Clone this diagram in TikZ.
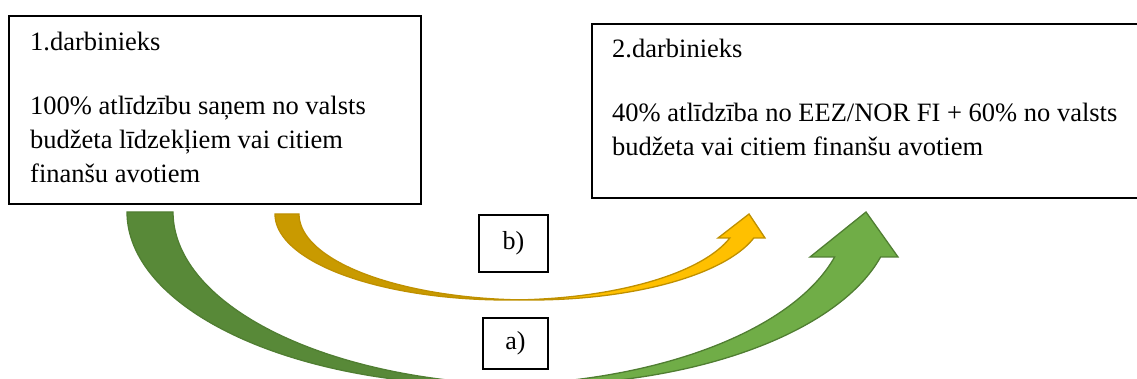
\documentclass[tikz,border=0pt]{standalone}
\usepackage{fontspec}
\setmainfont{Liberation Serif}
\definecolor{gdark}{RGB}{88,137,56}
\definecolor{glight}{RGB}{112,173,71}
\definecolor{gline}{RGB}{80,126,50}
\definecolor{ydark}{RGB}{201,154,0}
\definecolor{ylight}{RGB}{255,192,0}
\definecolor{yline}{RGB}{191,144,0}
\begin{document}
\begin{tikzpicture}[x=1pt,y=-1pt,
  box/.style={draw=black,line width=2pt,fill=white,inner sep=0pt},
  lbl/.style={draw=black,line width=1.6pt,fill=white,inner sep=0pt,font=\fontsize{26}{30}\selectfont},
  txt/.style={inner sep=0pt,anchor=base west,font=\fontsize{26.5}{34}\selectfont}]
\useasboundingbox (0,0) rectangle (1137,379);
\clip (0,0) rectangle (1137,379);

% boxes
\node[box,anchor=north west,minimum width=412pt,minimum height=188pt] (b1) at (8,15) {};
\node[box,anchor=north west,minimum width=560pt,minimum height=174pt] (b2) at (591,23) {};

\node[txt] (b1t1) at (30,51) {1.darbinieks};
\node[txt] (b1t2) at (30,115) {100\% atlīdzību saņem no valsts};
\node[txt] (b1t3) at (30,149) {budžeta līdzekļiem vai citiem};
\node[txt] (b1t4) at (30,183) {finanšu avotiem};

\node[txt] (b2t1) at (612,58) {2.darbinieks};
\node[txt] (b2t2) at (612,122) {40\% atlīdzība no EEZ/NOR FI + 60\% no valsts};
\node[txt] (b2t3) at (612,156) {budžeta vai citiem finanšu avotiem};

% green curved arrow (a)
\pgfmathsetmacro{\gcx}{487}\pgfmathsetmacro{\gcy}{212}
\pgfmathsetmacro{\grx}{360}\pgfmathsetmacro{\gry}{173}\pgfmathsetmacro{\gd}{46}
\pgfmathsetmacro{\gta}{acos(\gd/(2*\grx))}
\pgfmathsetmacro{\gtb}{180-\gta}
\pgfmathsetmacro{\gtc}{asin((257-\gcy)/\gry)}
\coordinate (gtip) at (866,212);
\coordinate (glb) at (810,257);
\coordinate (grb) at (898,257);
\fill[glight,draw=gline,line width=1.3pt,line join=miter]
  plot[domain=\gtb:\gtc,samples=70,variable=\t] ({\gcx+\gd+\grx*cos(\t)},{\gcy+\gry*sin(\t)})
  -- (grb) -- (gtip) -- (glb)
  -- plot[domain=\gtc:\gta,samples=70,variable=\t] ({\gcx+\grx*cos(\t)},{\gcy+\gry*sin(\t)})
  -- cycle;
\fill[gdark,draw=gline,line width=1.3pt]
  plot[domain=180:\gta,samples=80,variable=\t] ({\gcx+\grx*cos(\t)},{\gcy+\gry*sin(\t)})
  -- plot[domain=\gtb:180,samples=80,variable=\t] ({\gcx+\gd+\grx*cos(\t)},{\gcy+\gry*sin(\t)})
  -- cycle;

% yellow curved arrow (b)
\pgfmathsetmacro{\ycx}{507}\pgfmathsetmacro{\ycy}{214}
\pgfmathsetmacro{\yrx}{232}\pgfmathsetmacro{\yry}{86}\pgfmathsetmacro{\yd}{24}
\pgfmathsetmacro{\yta}{acos(\yd/(2*\yrx))}
\pgfmathsetmacro{\ytb}{180-\yta}
\pgfmathsetmacro{\ytc}{asin((238-\ycy)/\yry)}
\coordinate (ytip) at (749,214);
\coordinate (ylb) at (718,238);
\coordinate (yrb) at (765,238);
\fill[ylight,draw=yline,line width=1.3pt,line join=miter]
  plot[domain=\ytb:\ytc,samples=70,variable=\t] ({\ycx+\yd+\yrx*cos(\t)},{\ycy+\yry*sin(\t)})
  -- (yrb) -- (ytip) -- (ylb)
  -- plot[domain=\ytc:\yta,samples=70,variable=\t] ({\ycx+\yrx*cos(\t)},{\ycy+\yry*sin(\t)})
  -- cycle;
\fill[ydark,draw=yline,line width=1.3pt]
  plot[domain=180:\yta,samples=80,variable=\t] ({\ycx+\yrx*cos(\t)},{\ycy+\yry*sin(\t)})
  -- plot[domain=\ytb:180,samples=80,variable=\t] ({\ycx+\yd+\yrx*cos(\t)},{\ycy+\yry*sin(\t)})
  -- cycle;

% labels
\node[lbl,minimum width=69pt,minimum height=57pt] (lb) at (513.5,243.5) {b)};
\node[lbl,minimum width=65pt,minimum height=51pt] (la) at (515.5,343.5) {a)};
\end{tikzpicture}
\end{document}
